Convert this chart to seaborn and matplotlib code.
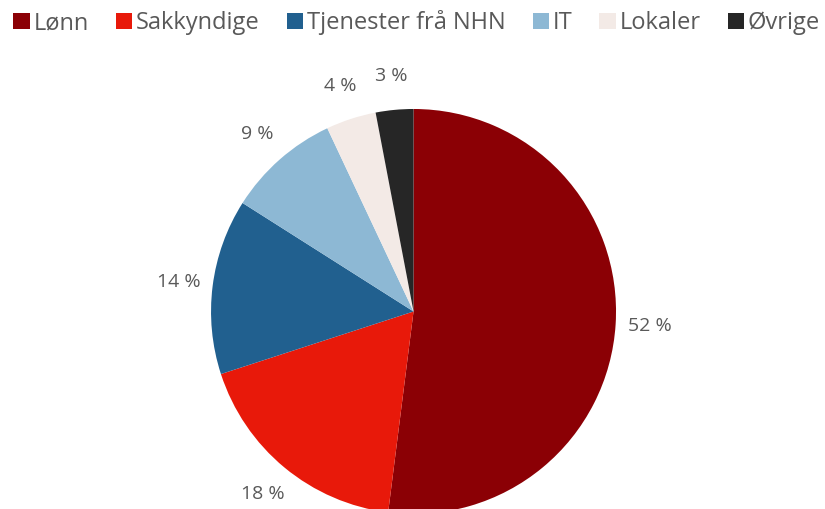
import matplotlib.pyplot as plt
import seaborn as sns
from matplotlib.patches import Patch

kategorier = ['Lønn', 'Sakkyndige', 'Tjenester frå NHN', 'IT', 'Lokaler', 'Øvrige']
andel = [52, 18, 14, 9, 4, 3]
farger = ['#8B0005', '#E8190A', '#21608F', '#8DB8D4', '#F3EAE6', '#262626']

sns.set_theme(style='white')
plt.rcParams['font.family'] = ['Open Sans', 'DejaVu Sans']
tekstfarge = '#595959'

fig = plt.figure(figsize=(8.25, 5.09), dpi=100)
# square axes holding the pie, bottom slightly outside the figure
ax = fig.add_axes([0.2558, -0.0098, 0.4909, 0.7957])

wedges, texts, autotexts = ax.pie(
    andel, colors=farger, startangle=90, counterclock=False,
    autopct=lambda p: f'{p:.0f} %', pctdistance=1.17,
    wedgeprops=dict(linewidth=0), textprops=dict(color=tekstfarge, fontsize=14),
)
ax.set_xlim(-1, 1)
ax.set_ylim(-1, 1)
ax.set_aspect('equal')
ax.axis('off')

handles = [Patch(facecolor=c, edgecolor='none') for c in farger]
fig.legend(handles, kategorier, loc='upper left', bbox_to_anchor=(-0.004, 1.012), ncol=6,
           frameon=False, fontsize=17, handlelength=0.7, handleheight=0.7,
           handletextpad=0.15, columnspacing=1.15, labelcolor=tekstfarge, borderaxespad=0.3)

fig.savefig('out.png', dpi=100)
